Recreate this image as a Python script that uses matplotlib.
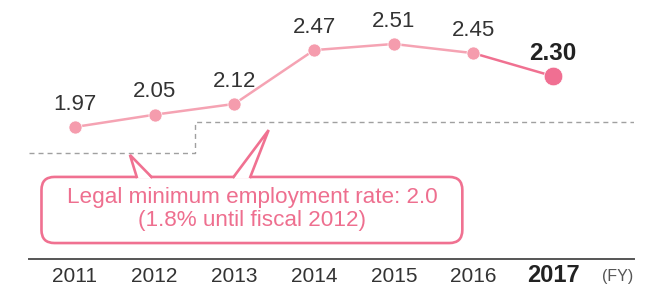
import matplotlib.pyplot as plt
from matplotlib.patches import FancyBboxPatch, Polygon

years = [2011, 2012, 2013, 2014, 2015, 2016, 2017]
rates = [1.97, 2.05, 2.12, 2.47, 2.51, 2.45, 2.30]
year_labels = ["2011", "2012", "2013", "2014", "2015", "2016", "2017"]
legal_x = [2010.42, 2012.51, 2012.51, 2018.02]
legal_y = [1.8, 1.8, 2.0, 2.0]
note = "Legal minimum employment rate: 2.0\n(1.8% until fiscal 2012)"

plt.rcParams['font.family'] = ['Liberation Sans', 'DejaVu Sans']

light = '#f5a3b3'
dark = '#f07191'
pink_text = '#ee6f8f'

fig = plt.figure(figsize=(6.69, 2.87), dpi=100)
ax = fig.add_axes([0.0433, 0.0993, 0.9044, 0.9007])
ax.set_xlim(2010.423, 2018.014)
ax.set_ylim(1.1144, 2.796)

for side in ['top', 'right', 'left']:
    ax.spines[side].set_visible(False)
ax.spines['bottom'].set_color('#555555')
ax.spines['bottom'].set_linewidth(1.4)
ax.set_xticks([])
ax.set_yticks([])

# legal minimum line
ax.plot(legal_x, legal_y, color='#a0a0a0', lw=1.0, linestyle=(0, (3.6, 2.9)), zorder=1)

# series
ax.plot(years[:-1], rates[:-1], color=light, lw=1.8, zorder=2)
ax.plot(years[-2:], rates[-2:], color=dark, lw=1.8, zorder=2)
ax.plot(years[:-1], rates[:-1], 'o', color='#f59cad', ms=9.4, mec='white', mew=0.5, zorder=3)
ax.plot(years[-1], rates[-1], 'o', color='#f06f92', ms=13.4, mec='white', mew=0.5, zorder=3)

for i in range(len(years)):
    if i == len(years) - 1:
        ax.annotate(f"{rates[i]:.2f}", (years[i], rates[i]), xytext=(0, 16.5),
                    textcoords='offset points', ha='center', va='center',
                    fontsize=17.5, fontweight='bold', color='#222222')
    else:
        ax.annotate(f"{rates[i]:.2f}", (years[i], rates[i]), xytext=(0, 16.5),
                    textcoords='offset points', ha='center', va='center',
                    fontsize=16, color='#333333')

# year labels under the baseline
for i in range(len(years)):
    bold = i == len(years) - 1
    ax.annotate(year_labels[i], (years[i], 0), xycoords=('data', 'axes fraction'),
                xytext=(0, -16.6), textcoords='offset points', ha='center', va='baseline',
                fontsize=17 if bold else 15, fontweight='bold' if bold else 'normal',
                color='#222222' if bold else '#333333', annotation_clip=False)
ax.annotate("(FY)", (2017.807, 0), xycoords=('data', 'axes fraction'),
            xytext=(0, -12.8), textcoords='offset points', ha='center', va='center',
            fontsize=11.5, color='#555555', annotation_clip=False)

# speech bubble
box_x0, box_x1 = 2010.58, 2015.86
box_y0, box_y1 = 1.215, 1.645
box = FancyBboxPatch((box_x0, box_y0), box_x1 - box_x0, box_y1 - box_y0,
                     boxstyle="round,pad=0,rounding_size=0.163", mutation_aspect=0.518,
                     fc='white', ec=dark, lw=1.9, zorder=4)
ax.add_patch(box)

pointers = [
    [(2011.775, box_y1 - 0.012), (2011.69, 1.788), (2011.96, box_y1 - 0.012)],
    [(2012.99, box_y1 - 0.012), (2013.43, 1.95), (2013.20, box_y1 - 0.012)],
]
for pts in pointers:
    ax.add_patch(Polygon(pts, closed=True, fc='white', ec='none', zorder=5))
    ax.plot([pts[0][0], pts[1][0], pts[2][0]], [box_y1, pts[1][1], box_y1],
            color=dark, lw=1.9, solid_joinstyle='miter', zorder=6)

ax.text((box_x0 + box_x1) / 2, (box_y0 + box_y1) / 2 + 0.005, note, ha='center', va='center',
        fontsize=16.2, color=pink_text, linespacing=1.1, zorder=7)

fig.savefig('out.png', dpi=100)
